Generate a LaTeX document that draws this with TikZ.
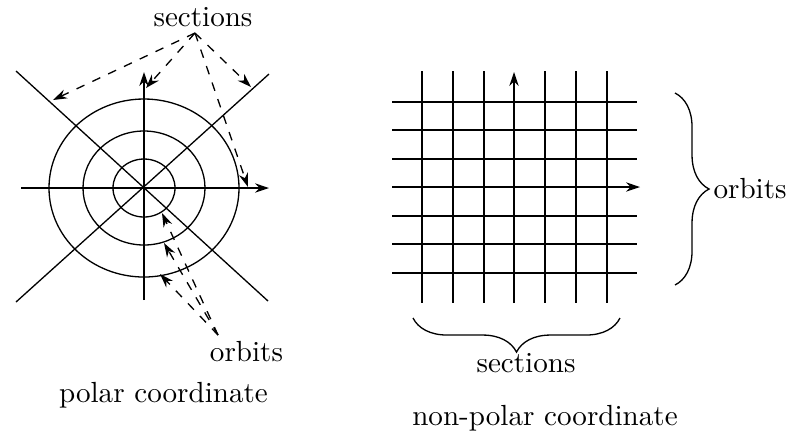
\documentclass[tikz,border=0pt]{standalone}
\usetikzlibrary{arrows.meta,decorations.pathreplacing,positioning}

\begin{document}
\begin{tikzpicture}[x=0.3436pt,y=-0.3436pt,line width=0.45pt,
  axis/.style={-{Stealth[length=4.8pt,width=3.2pt]}},
  pointer/.style={dashed,-{Stealth[length=4.8pt,width=3.2pt]}},
  curly/.style={decorate,decoration={brace,amplitude=11.7pt}}]
  \useasboundingbox (0,0) rectangle (792,435);

  % polar coordinate
  \coordinate (c) at (144,188);
  \foreach \rx/\ry in {31/29,61/57,95/89}
    \draw (c) ellipse [x radius=\rx, y radius=\ry];
  \draw[axis] (21,188) -- (269,188);
  \draw[axis] (144,300) -- (144,72);
  \draw (16,71) -- (268,301);
  \draw (16,302) -- (269,74);

  \node (secA) at (203,17) {sections};
  \coordinate (secfoot) at (195,33);
  \coordinate (s1) at (53,100);
  \coordinate (s2) at (146,88);
  \coordinate (s3) at (251,87);
  \coordinate (s4) at (248,187);
  \foreach \t in {s1,s2,s3,s4}
    \draw[pointer] (secfoot) -- (\t);

  \node (orbA) at (246.5,352) {orbits};
  \coordinate (orbfoot) at (218,335);
  \coordinate (o1) at (162,213);
  \coordinate (o2) at (164,243);
  \coordinate (o3) at (160,274);
  \foreach \t in {o1,o2,o3}
    \draw[pointer] (orbfoot) -- (\t);

  \node (polar) at (163.5,395) {polar coordinate};

  % non-polar coordinate
  \foreach \y in {102,130,159,216,244,273}
    \draw (392,\y) -- (637,\y);
  \foreach \x in {422,453,484,545,576,607}
    \draw (\x,71) -- (\x,303);
  \draw[axis] (392,187) -- (640,187);
  \draw[axis] (514,303) -- (514,72);

  \draw[curly] (675,93) -- (675,285);
  \node[anchor=west,inner sep=1pt] (orbB) at (710,189) {orbits};
  \draw[curly] (620,318) -- (413,318);
  \node (secB) at (526,363) {sections};

  \node (nonpolar) at (545,418) {non-polar coordinate};
\end{tikzpicture}
\end{document}
